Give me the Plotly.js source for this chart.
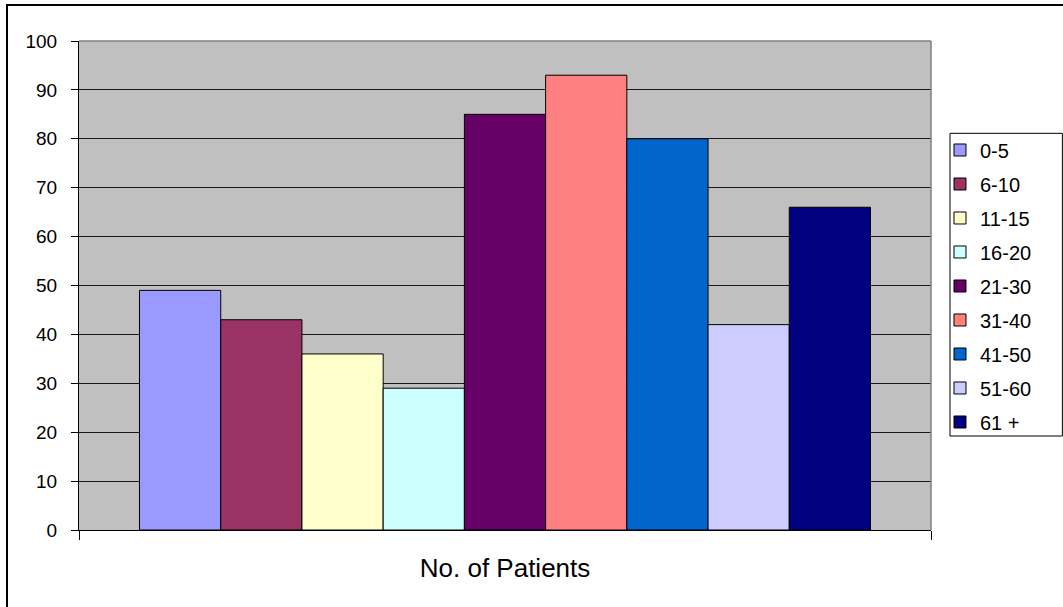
<!DOCTYPE html>
<html>
<head>
<meta charset="utf-8">
<script src="https://cdn.plot.ly/plotly-3.0.1.min.js"></script>
<style>html,body{margin:0;padding:0;background:#fff;}#chart{width:1063px;height:607px;}</style>
</head>
<body>
<div id="chart"></div>
<script>
const category = ["No. of Patients"];
const ageGroups = ["0-5", "6-10", "11-15", "16-20", "21-30", "31-40", "41-50", "51-60", "61 +"];
const patients = [49, 43, 36, 29, 85, 93, 80, 42, 66];
const colors = ["#9999FF", "#993366", "#FFFFCC", "#CCFFFF", "#660066", "#FF8080", "#0066CC", "#CCCCFF", "#000080"];
const yTicks = [0, 10, 20, 30, 40, 50, 60, 70, 80, 90, 100];

const FONT = "Liberation Sans, Arial, sans-serif";

const traces = ageGroups.map((g, i) => ({
  type: "bar",
  name: g,
  legendgroup: g,
  x: category,
  y: [patients[i]],
  marker: { color: colors[i], line: { color: "#000000", width: 1 } },
  hoverinfo: "name+y"
}));

const layout = {
  width: 1063,
  height: 607,
  margin: { l: 79, r: 132, t: 41, b: 77, pad: 0 },
  paper_bgcolor: "#FFFFFF",
  plot_bgcolor: "#C0C0C0",
  barmode: "group",
  bargap: 0.142,
  bargroupgap: 0,
  showlegend: true,
  font: { family: FONT, color: "#000000", size: 19 },
  xaxis: {
    type: "category",
    range: [-0.5, 0.5],
    tickson: "boundaries",
    ticks: "outside",
    ticklen: 9,
    tickcolor: "#000000",
    showgrid: false,
    showline: true,
    linecolor: "#000000",
    linewidth: 1,
    tickfont: { family: FONT, size: 26, color: "#000000" },
    ticklabelstandoff: 15,
    fixedrange: true
  },
  yaxis: {
    range: [0, 100],
    tickvals: yTicks,
    ticktext: yTicks.map(String),
    ticks: "outside",
    ticklen: 7,
    tickcolor: "#000000",
    showgrid: true,
    gridcolor: "#1a1a1a",
    gridwidth: 1,
    zeroline: false,
    showline: true,
    linecolor: "#000000",
    linewidth: 1,
    tickfont: { family: FONT, size: 19, color: "#000000" },
    ticklabelstandoff: 10,
    fixedrange: true
  },
  legend: {
    x: 1.0223,
    xanchor: "left",
    y: 0.817,
    yanchor: "top",
    bgcolor: "rgba(0,0,0,0)",
    borderwidth: 0,
    font: { family: FONT, size: 20, color: "#000000" },
    tracegroupgap: 5,
    traceorder: "grouped",
    indentation: -10
  },
  shapes: [
    { type: "line", xref: "paper", yref: "paper", x0: 0, x1: 1, y0: 1, y1: 1, line: { color: "#808080", width: 1.5 } },
    { type: "line", xref: "paper", yref: "paper", x0: 1, x1: 1, y0: 0, y1: 1, line: { color: "#808080", width: 1.5 } },
    { type: "rect", xref: "paper", yref: "paper", x0: -0.0845, x1: 1.5, y0: -0.5, y1: 1.0735, line: { color: "#000000", width: 2 }, fillcolor: "rgba(0,0,0,0)" },
    { type: "rect", xref: "paper", yref: "paper", x0: 1.0223, x1: 1.1542, y0: 0.1922, y1: 0.8112, line: { color: "#000000", width: 1 }, fillcolor: "#FFFFFF" }
  ]
};

Plotly.newPlot("chart", traces, layout, { displayModeBar: false, staticPlot: true });
</script>
</body>
</html>
